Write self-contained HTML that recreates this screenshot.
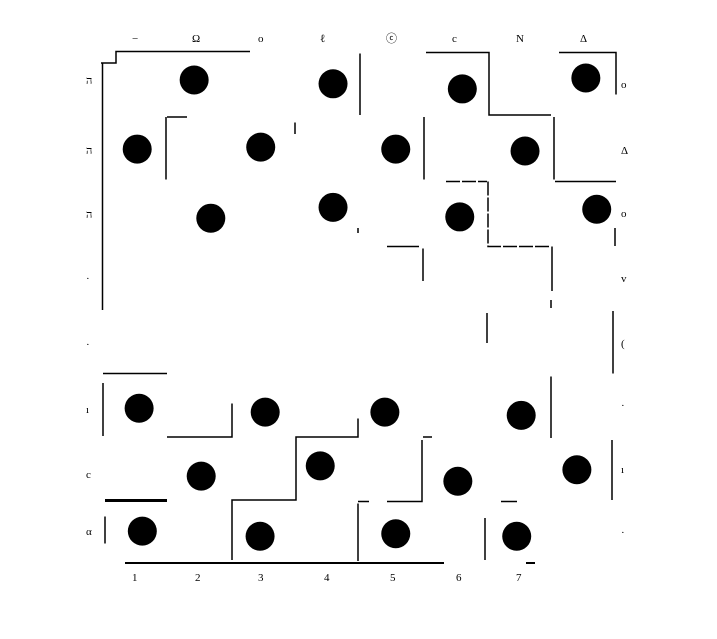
<!DOCTYPE html>
<html><head><meta charset="utf-8"><style>
html,body{margin:0;padding:0;background:#fff;}
svg{display:block;}
text{font-family:"Liberation Serif",serif;font-size:11px;fill:#000;}
</style></head><body>
<svg id="chart" width="717" height="639" viewBox="0 0 717 639">
<g stroke="#000" stroke-width="1.5" fill="none">
<path d="M101 63H116V51.5H250"/>
<path d="M102.5 63V310"/>
<path d="M360 53.5V115"/>
<path d="M426 52.5H489V115H551"/>
<path d="M559 52.5H616V94.5"/>
<path d="M167 117H187M166 117V179.5"/>
<path d="M295 122.5V134"/>
<path d="M424 117V179.5"/>
<path d="M554 117V179.5"/>
<path d="M446 181.5H487M488 181.5V246.5H551" stroke-dasharray="14 2"/>
<path d="M555 181.5H616"/>
<path d="M358 228V233"/>
<path d="M387 246.5H419M423 248.5V281"/>
<path d="M552 246.5V291"/>
<path d="M615 228V246"/>
<path d="M103 373.5H167"/>
<path d="M103 383V436"/>
<path d="M167 437H232V403.5"/>
<path d="M358 418.5V437H296V500H232V560"/>
<path d="M105 500.5H167" stroke-width="3"/>
<path d="M487 313V343"/>
<path d="M551 376.5V438M551 300V308"/>
<path d="M613 311V373.5M612 440V500"/>
<path d="M423 437H432M422 440V501.5H387M358 501.5H369M358 503.5V561"/>
<path d="M501 501.5H517"/>
<path d="M485 518V560"/>
<path d="M125 563H444M526 563H535" stroke-width="2"/>
<path d="M105 516.5V543.5"/>
</g>
<g id="dots"></g>
<g>
<text x="132" y="42">−</text><text x="192" y="42">Ω</text><text x="258" y="42">o</text><text x="320" y="42">ℓ</text><text x="386" y="42">ⓒ</text><text x="452" y="42">c</text><text x="516" y="42">N</text><text x="580" y="42">Δ</text>
</g>
<g>
<text x="86" y="84">ה</text><text x="86" y="154">ה</text><text x="86" y="218">ה</text><text x="86" y="282">·</text><text x="86" y="348">·</text><text x="86" y="413">ı</text><text x="86" y="478">c</text><text x="86" y="535">α</text>
</g>
<g>
<text x="621" y="88">o</text><text x="621" y="154">Δ</text><text x="621" y="217">o</text><text x="621" y="282">v</text><text x="621" y="347">(</text><text x="621" y="409">·</text><text x="621" y="473">ı</text><text x="621" y="536">·</text>
</g>
<g>
<text x="132" y="581">1</text><text x="195" y="581">2</text><text x="258" y="581">3</text><text x="324" y="581">4</text><text x="390" y="581">5</text><text x="456" y="581">6</text><text x="516" y="581">7</text>
</g>
</svg>
<script>
const dotCols = [1.44,3.61,5.63,7.56, 0.55,2.48,4.59,6.61, 1.70,3.61,5.59,7.73, 0.58,2.55,4.42,6.55, 1.55,3.41,5.56,7.42, 0.63,2.47,4.59,6.48];
const dotRows = [0.39,0.45,0.53,0.36, 1.47,1.44,1.47,1.50, 2.55,2.38,2.53,2.41, 5.52,5.58,5.58,5.63, 6.58,6.42,6.66,6.48, 7.44,7.52,7.48,7.52];
function xScale(c){return 102 + c*64;}
function yScale(r){return 55 + r*64;}
const g = document.getElementById('dots');
for (let i = 0; i < dotCols.length; i++) {
  const c = document.createElementNS('http://www.w3.org/2000/svg','circle');
  c.setAttribute('cx', xScale(dotCols[i]));
  c.setAttribute('cy', yScale(dotRows[i]));
  c.setAttribute('r', 14.5);
  c.setAttribute('fill', '#000');
  
  
  g.appendChild(c);
}
</script>
</body></html>
